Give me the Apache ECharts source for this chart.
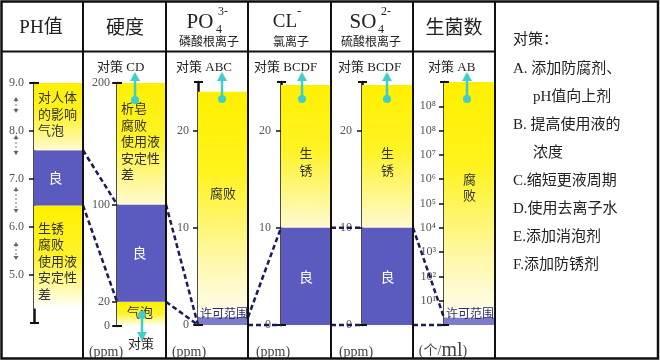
<!DOCTYPE html>
<html><head><meta charset="utf-8">
<script src="https://cdn.jsdelivr.net/npm/echarts@6/dist/echarts.min.js"></script>
<style>html,body{margin:0;padding:0;background:#fff}#c{width:660px;height:361px}</style>
</head><body><div id="c"></div><script>
// ---------- data ----------
const phTicks = [5, 6, 7, 8, 9];
const phTickLabels = ['5.0', '6.0', '7.0', '8.0', '9.0'];
const hardTicks = [0, 20, 100, 200];
const hardTickLabels = ['0', '20', '100', '200'];
const ionTicks = [0, 10, 20];
const ionTickLabels = ['0', '10', '20'];
const germTicks = [1e1, 1e2, 1e3, 1e4, 1e5, 1e6, 1e7, 1e8, 1e9];
const germTickLabels = ['10¹', '10²', '10³', '10⁴', '10⁵', '10⁶', '10⁷', '10⁸', '10⁸'];

// bands: [low, high, kind, label]
const phBands = [[4.3, 6.45, 'fade', '生锈\n腐败\n使用液\n安定性\n差'], [6.45, 7.6, 'good', '良'], [7.6, 9, 'warn', '对人体\n的影响\n气泡']];
const hardBands = [[0, 20, 'fade', '气泡'], [20, 100, 'good', '良'], [100, 200, 'warn', '析皂\n腐败\n使用液\n安定性\n差']];
const po4Bands = [[0.8, 24, 'fadeLong', '腐败'], [0, 0.8, 'permit', '许可范围']];
const clBands = [[10, 24.7, 'warn', '生\n锈'], [0, 10, 'good', '良']];
const so4Bands = [[10, 24.7, 'warn', '生\n锈'], [0, 10, 'good', '良']];
const germBands = [[2, 1e10, 'fadeLong', '腐\n败'], [1, 2, 'permit', '许可范围']];

// links between "good" ranges of neighbouring columns: [[panel, value], [panel, value]]
const links = [
  [[0, 7.6], [1, 100]], [[0, 6.45], [1, 20]],
  [[1, 100], [2, 0]], [[1, 20], [2, 0]],
  [[2, 0.8], [3, 10]], [[2, 0], [3, 0]],
  [[3, 10], [4, 10]], [[3, 0], [4, 0]],
  [[4, 10], [5, 2]], [[4, 0], [5, 1]]
];

const headers = ['PH值', '硬度', '磷酸根离子', '氯离子', '硫酸根离子', '生菌数'];
const measures = ['对策 CD', '对策 ABC', '对策 BCDF', '对策 BCDF', '对策 AB'];
const legendLines = ['对策：', 'A. 添加防腐剂、', 'pH值向上剂', 'B. 提高使用液的', '浓度', 'C.缩短更液周期', 'D.使用去离子水', 'E.添加消泡剂', 'F.添加防锈剂'];

// ---------- layout ----------
const SERIF = '"Liberation Serif","DejaVu Serif",serif';
const MIX = '"Liberation Serif","Noto Sans CJK SC",serif';
const CJK = '"Noto Sans CJK SC",sans-serif';

const panels = [
  {left: 34, right: 83, top: 83, bottom: 323, min: 4, max: 9, ticks: phTicks, labels: phTickLabels, bands: phBands, margin: 10,
   pos: [{m: 'tl', dx: 4, dy: 14}, {m: 'c', dx: -3}, {m: 'tl', dx: 4, dy: 6}]},
  {left: 117, right: 166, top: 83, bottom: 326, min: 0, max: 200, ticks: hardTicks, labels: hardTickLabels, bands: hardBands, margin: 7,
   pos: [{m: 'tl', dx: 10, dy: 2}, {m: 'c', dx: -2}, {m: 'tl', dx: 4, dy: 17}]},
  {left: 198, right: 248, top: 82, bottom: 325, min: 0, max: 25, ticks: ionTicks, labels: ionTickLabels, bands: po4Bands, margin: 9,
   pos: [{m: 'c', dy: -11}, {m: 'bl', dx: 2, dy: -3}]},
  {left: 281, right: 331, top: 82, bottom: 325, min: 0, max: 25, ticks: ionTicks, labels: ionTickLabels, bands: clBands, margin: 10,
   pos: [{m: 'c', dy: 5}, {m: 'c'}]},
  {left: 362, right: 413, top: 82, bottom: 325, min: 0, max: 25, ticks: ionTicks, labels: ionTickLabels, bands: so4Bands, margin: 10,
   pos: [{m: 'c', dy: 5}, {m: 'c'}]},
  {left: 444, right: 495, top: 82, bottom: 325, min: 1, max: 1e10, log: true, ticks: germTicks, labels: germTickLabels, bands: germBands, margin: 8,
   pos: [{m: 'c', dy: -13}, {m: 'bl', dx: 2, dy: -3}]}
];

const YELLOW = '#FFF000';
function grad(stops) { return new echarts.graphic.LinearGradient(0, 0, 0, 1, stops.map(s => ({offset: s[0], color: s[1]}))); }
function fillOf(kind) {
  if (kind === 'good') return '#5A5ABF';
  if (kind === 'permit') return '#7C7CCC';
  if (kind === 'warn') return grad([[0, YELLOW], [0.45, '#FFF324'], [1, '#FFFAD2']]);
  if (kind === 'fade') return grad([[0, YELLOW], [0.5, '#FFF32A'], [1, '#FFFFFF']]);
  return grad([[0, YELLOW], [0.35, '#FFF31C'], [0.75, '#FFF8AA'], [1, '#FFFDF0']]);
}

function labelFor(p, v) {
  for (let k = 0; k < p.ticks.length; k++) {
    const t = p.ticks[k];
    if (p.log ? Math.abs(Math.log10(t) - Math.log10(v)) < 1e-6 : Math.abs(t - v) < 1e-9) return p.labels[k];
  }
  return '';
}

function makeRender(i) {
  const p = panels[i];
  return function (params, api) {
    const cs = params.coordSys;
    const band = p.bands[params.dataIndex];
    const kind = band[2], label = band[3];
    const yTop = api.coord([0, api.value(2)])[1];
    const yBot = api.coord([0, api.value(1)])[1];
    const L = p.pos[params.dataIndex];
    const children = [{type: 'rect', shape: {x: cs.x, y: yTop, width: cs.width, height: yBot - yTop}, style: {fill: fillOf(kind)}}];
    if (label) {
      let tx, ty, align, va;
      if (L.m === 'tl') { tx = cs.x + L.dx; ty = yTop + L.dy; align = 'left'; va = 'top'; }
      else if (L.m === 'bl') { tx = cs.x + L.dx; ty = yBot + L.dy; align = 'left'; va = 'bottom'; }
      else { tx = cs.x + cs.width / 2 + (L.dx || 0); ty = (yTop + yBot) / 2 + (L.dy || 0); align = 'center'; va = 'middle'; }
      const good = kind === 'good', permit = kind === 'permit';
      children.push({type: 'text', z2: 5, style: {
        text: label, x: tx, y: ty, align: align, verticalAlign: va,
        fill: good ? '#ffffff' : (permit ? '#2a2a78' : '#333333'),
        fontSize: good ? 14 : (permit ? 12 : 13), fontFamily: CJK, lineHeight: 16.5
      }});
    }
    return {type: 'group', children: children};
  };
}

const chart = echarts.init(document.getElementById('c'), null, {renderer: 'canvas', width: 660, height: 361});
chart.setOption({
  animation: false,
  backgroundColor: '#ffffff',
  grid: panels.map(p => ({left: p.left, top: p.top, width: p.right - p.left, height: p.bottom - p.top, show: false})),
  xAxis: panels.map((p, i) => ({gridIndex: i, type: 'value', min: 0, max: 1, show: false})),
  yAxis: panels.map((p, i) => Object.assign({
    gridIndex: i, type: p.log ? 'log' : 'value', min: p.min, max: p.max,
    axisLine: {show: true, onZero: false, lineStyle: {color: '#111', width: 2.5}},
    axisTick: {show: true, customValues: p.ticks, length: 5, lineStyle: {color: '#111', width: 1.5}},
    axisLabel: {show: true, customValues: p.ticks, margin: p.margin, formatter: v => labelFor(p, v),
      fontFamily: SERIF, fontSize: 12, color: '#555'},
    splitLine: {show: false}
  }, p.log ? {logBase: 10} : {})),
  series: panels.map((p, i) => ({
    type: 'custom', xAxisIndex: i, yAxisIndex: i, renderItem: makeRender(i), clip: false,
    encode: {x: 0, y: [1, 2]}, data: p.bands.map(b => [0, b[0], b[1]]), z: 2
  }))
});

// ---------- decorations ----------
const G = [];
function txt(x, y, text, size, family, fill, align, extra) {
  return Object.assign({type: 'text', x: x, y: y, z: 20, style: {text: text, fontSize: size, fontFamily: family, fill: fill || '#222', align: align || 'center', verticalAlign: 'middle'}}, extra || {});
}
function line(x1, y1, x2, y2, stroke, w, dash, z) {
  const s = {stroke: stroke, lineWidth: w};
  if (dash) s.lineDash = dash;
  return {type: 'line', z: z || 10, shape: {x1: x1, y1: y1, x2: x2, y2: y2}, style: s};
}

// table
const colX = [83, 166, 248, 331, 413, 495];
G.push({type: 'rect', z: 30, shape: {x: 1.5, y: 1.5, width: 656.5, height: 357}, style: {fill: null, stroke: '#111', lineWidth: 2.5}});
colX.forEach(x => G.push(line(x, 1.5, x, 358.5, '#111', 2, null, 30)));
G.push(line(1.5, 51.5, 495, 51.5, '#111', 2, null, 30));

// headers
G.push(txt(41, 28, 'PH值', 19, MIX, '#222'));
G.push(txt(125, 27, headers[1], 19, CJK, '#222'));
G.push(txt(200, 22, 'PO', 21, SERIF, '#222'));
G.push(txt(216, 30, '4', 12, SERIF, '#222', 'left'));
G.push(txt(218, 12, '3-', 12, SERIF, '#222', 'left'));
G.push(txt(209, 41, headers[2], 12, CJK, '#222'));
G.push(txt(285, 22, 'CL', 19, SERIF, '#222'));
G.push(txt(297, 12, '-', 13, SERIF, '#222', 'left'));
G.push(txt(291, 41, headers[3], 12, CJK, '#222'));
G.push(txt(363, 22, 'SO', 21, SERIF, '#222'));
G.push(txt(378, 30, '4', 12, SERIF, '#222', 'left'));
G.push(txt(381, 12, '2-', 12, SERIF, '#222', 'left'));
G.push(txt(371, 41, headers[4], 12, CJK, '#222'));
G.push(txt(454, 27, headers[5], 19, CJK, '#222'));

// measures above columns
[[97, 0], [176, 1], [254, 2], [338, 3], [428, 4]].forEach(a => G.push(txt(a[0], 68, measures[a[1]], 13, MIX, '#222', 'left')));
G.push(txt(128, 343, '对策', 13, CJK, '#222', 'left'));

// units
[[106, 1], [189, 2], [273, 3], [356, 4]].forEach(a => G.push(txt(a[0], 352, '(ppm)', 14, SERIF, '#444')));
G.push({type: 'text', x: 443, y: 351, z: 20, style: {text: '{a|(个/}{b|ml}{a|)}', align: 'center', verticalAlign: 'middle',
  rich: {a: {fontSize: 14, fontFamily: MIX, fill: '#444'}, b: {fontSize: 20, fontFamily: SERIF, fill: '#444'}}}});

// legend text at right
const legendPos = [[513, 40], [513, 69], [533, 97], [513, 125], [533, 153], [513, 181], [513, 209], [513, 237], [513, 265]];
legendLines.forEach((t, k) => G.push(txt(legendPos[k][0], legendPos[k][1], t, 15, MIX, '#222', 'left')));

// pH small double arrows
[[97, 113], [135, 155], [187, 213], [242, 260]].forEach(s => {
  G.push(line(16, s[0] + 3, 16, s[1] - 3, '#777', 1, [2, 2], 15));
  G.push({type: 'polygon', z: 15, shape: {points: [[16, s[0]], [13.5, s[0] + 4], [18.5, s[0] + 4]]}, style: {fill: '#666'}});
  G.push({type: 'polygon', z: 15, shape: {points: [[16, s[1]], [13.5, s[1] - 4], [18.5, s[1] - 4]]}, style: {fill: '#666'}});
});

// axis end caps
panels.forEach(p => {
  G.push(line(p.left - 4, p.top, p.left + 5, p.top, '#111', 2, null, 12));
  G.push(line(p.left - 4, p.bottom, p.left + 5, p.bottom, '#111', 2, null, 12));
});

// dashed links
links.forEach(l => {
  const a = l[0], b = l[1];
  const ya = chart.convertToPixel({yAxisIndex: a[0]}, a[1]);
  const yb = chart.convertToPixel({yAxisIndex: b[0]}, b[1]);
  G.push(line(panels[a[0]].right, ya, panels[b[0]].left, yb, '#1b1b55', 2.5, [5, 3], 25));
});

// cyan arrows
const CY = '#3ECFCB';
[[135, 100, 72], [222, 99, 72], [302, 99, 72], [387, 99, 72], [467, 99, 72], [142, 315, 341]].forEach(a => {
  const x = a[0], y0 = a[1], y1 = a[2];
  const dir = y1 < y0 ? 1 : -1;
  G.push(line(x, y0, x, y1 + dir * 7, CY, 2.5, null, 26));
  G.push({type: 'circle', z: 26, shape: {cx: x, cy: y0, r: 4}, style: {fill: CY}});
  G.push({type: 'polygon', z: 26, shape: {points: [[x, y1], [x - 5, y1 + dir * 9], [x + 5, y1 + dir * 9]]}, style: {fill: CY}});
});

chart.setOption({graphic: G});
</script></body></html>
